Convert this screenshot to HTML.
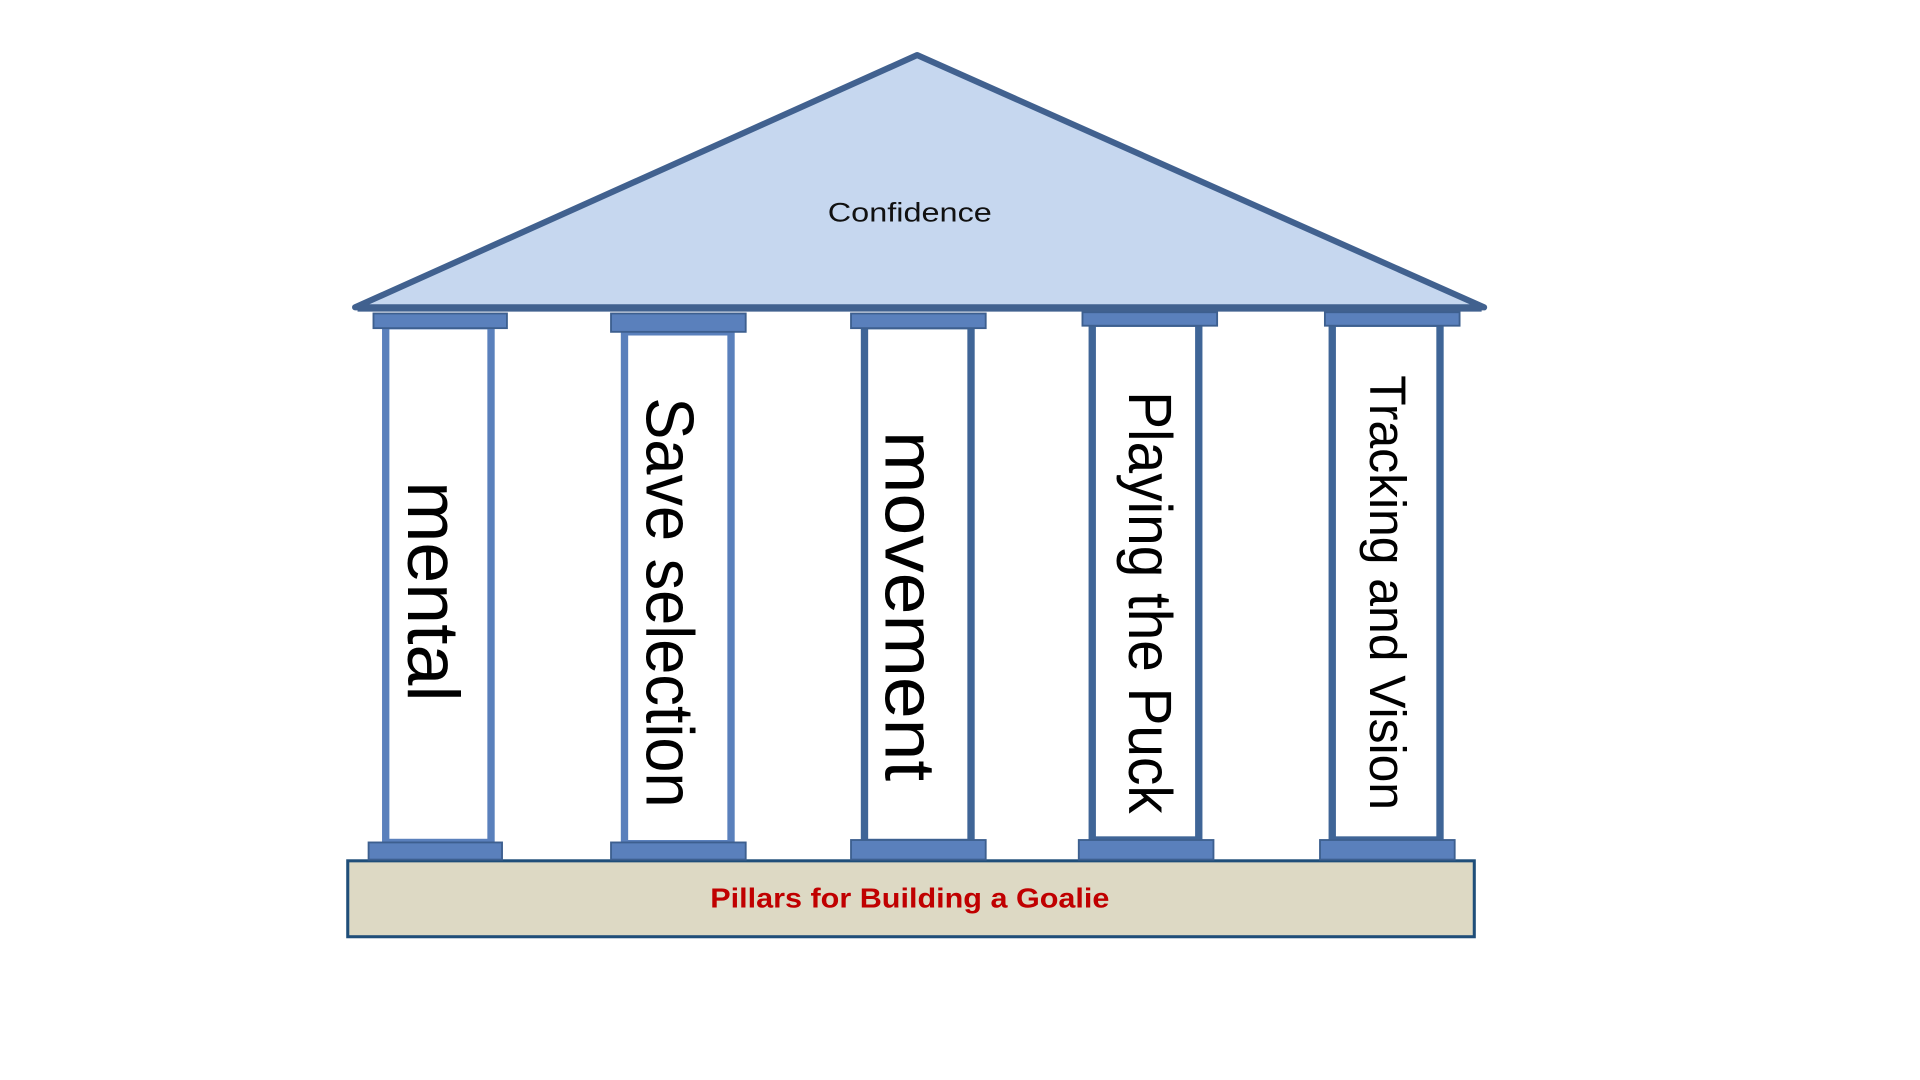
<!DOCTYPE html>
<html><head><meta charset="utf-8"><style>html,body{margin:0;padding:0;background:#fff}svg{display:block}</style></head>
<body>
<svg width="1920" height="1080" viewBox="0 0 1568 882" xmlns="http://www.w3.org/2000/svg" font-family="Liberation Sans, DejaVu Sans, sans-serif">
<rect width="1568" height="882" fill="#fff"/>
<polygon points="290,251 749,45 1212,251" fill="#c6d7ef" stroke="#41618f" stroke-width="5" stroke-linejoin="round"/>
<text x="743" y="181" font-size="22" text-anchor="middle" textLength="134" lengthAdjust="spacingAndGlyphs" fill="#111">Confidence</text>

<!-- base -->
<rect x="284" y="703" width="920" height="62" fill="#ddd9c4" stroke="#1f4e79" stroke-width="2.5"/>
<text x="743" y="741" font-size="23" font-weight="bold" text-anchor="middle" textLength="326" lengthAdjust="spacingAndGlyphs" fill="#c00000">Pillars for Building a Goalie</text>

<g stroke-width="6" fill="#fff">
<rect x="315" y="266" width="86" height="422" stroke="#5a80bc"/>
<rect x="510" y="271" width="87" height="418" stroke="#5a80bc"/>
<rect x="706" y="266" width="87" height="422" stroke="#3f6597"/>
<rect x="892" y="264" width="87" height="422" stroke="#3f6597"/>
<rect x="1088" y="264" width="88" height="422" stroke="#3f6597"/>
</g>
<g fill="#5a80bc" stroke="#3d5f8f" stroke-width="1.5">
<rect x="305" y="256" width="109" height="12"/>
<rect x="499" y="256" width="110" height="15"/>
<rect x="695" y="256" width="110" height="12"/>
<rect x="884" y="255" width="110" height="11"/>
<rect x="1082" y="255" width="110" height="11"/>
<rect x="301" y="688" width="109" height="14"/>
<rect x="499" y="688" width="110" height="14"/>
<rect x="695" y="686" width="110" height="16"/>
<rect x="881" y="686" width="110" height="16"/>
<rect x="1078" y="686" width="110" height="16"/>
</g>
<line x1="292" y1="252" x2="1210" y2="252" stroke="#41618f" stroke-width="5"/>

<g fill="#000" text-anchor="middle">
<text transform="translate(333,483) rotate(90)" font-size="60" textLength="180" lengthAdjust="spacingAndGlyphs">mental</text>
<text transform="translate(528,492) rotate(90)" font-size="55" textLength="335" lengthAdjust="spacingAndGlyphs">Save selection</text>
<text transform="translate(723,495) rotate(90)" font-size="58" textLength="286" lengthAdjust="spacingAndGlyphs">movement</text>
<text transform="translate(922,492) rotate(90)" font-size="50" textLength="345" lengthAdjust="spacingAndGlyphs">Playing the Puck</text>
<text transform="translate(1119,484) rotate(90)" font-size="42" textLength="355" lengthAdjust="spacingAndGlyphs">Tracking and Vision</text>
</g>
</svg>
</body></html>
